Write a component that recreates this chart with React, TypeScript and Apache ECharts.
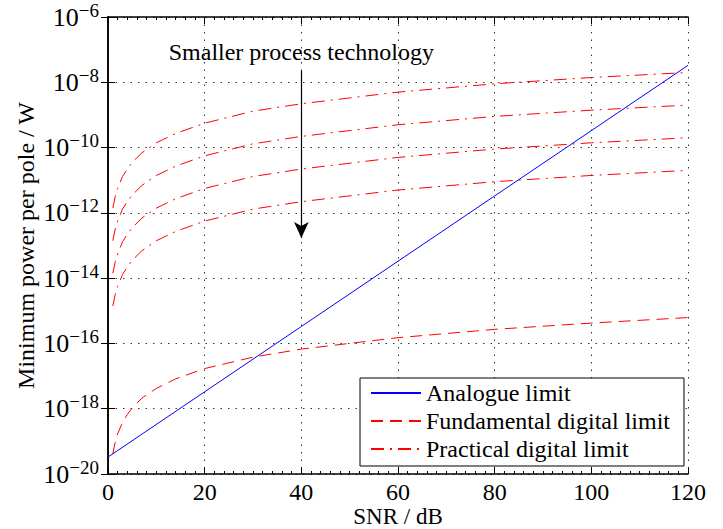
import React, { useEffect, useRef } from 'react';
import * as echarts from 'echarts';

const FONT = '"Liberation Serif", "Times New Roman", Times, serif';

// SNR samples (dB) for the digital limits
const snr = [1, 1.5, 2, 3, 4, 5, 7, 10, 14, 20, 30, 40, 60, 80, 100, 120];

// Analogue limit (straight line on the log scale)
const analogueSnr = [0, 20, 40, 60, 80, 100, 120];
const analogue = [3.3e-20, 3.3e-18, 3.3e-16, 3.3e-14, 3.3e-12, 3.3e-10, 3.3e-8];

// Fundamental digital limit
const fundamental = [4.2e-20, 9.5e-20, 1.7e-19, 3.8e-19, 6.7e-19, 1.05e-18, 2.1e-18, 4.2e-18, 8.2e-18, 1.7e-17, 3.8e-17, 6.7e-17, 1.5e-16, 2.7e-16, 4.2e-16, 6.2e-16];

// Practical digital limits (four process technologies)
const practical1 = [1.4e-12, 3.2e-12, 5.6e-12, 1.3e-11, 2.2e-11, 3.5e-11, 6.9e-11, 1.4e-10, 2.7e-10, 5.6e-10, 1.3e-9, 2.2e-9, 5.0e-9, 9.0e-9, 1.4e-8, 2.0e-8];
const practical2 = [1.4e-13, 3.2e-13, 5.6e-13, 1.3e-12, 2.2e-12, 3.5e-12, 6.9e-12, 1.4e-11, 2.7e-11, 5.6e-11, 1.3e-10, 2.2e-10, 5.0e-10, 9.0e-10, 1.4e-9, 2.0e-9];
const practical3 = [1.4e-14, 3.2e-14, 5.6e-14, 1.3e-13, 2.2e-13, 3.5e-13, 6.9e-13, 1.4e-12, 2.7e-12, 5.6e-12, 1.3e-11, 2.2e-11, 5.0e-11, 9.0e-11, 1.4e-10, 2.0e-10];
const practical4 = [1.4e-15, 3.2e-15, 5.6e-15, 1.3e-14, 2.2e-14, 3.5e-14, 6.9e-14, 1.4e-13, 2.7e-13, 5.6e-13, 1.3e-12, 2.2e-12, 5.0e-12, 9.0e-12, 1.4e-11, 2.0e-11];

const legendNames = ['Analogue limit', 'Fundamental digital limit', 'Practical digital limit'];
const arrowStart: [number, number] = [40, 2.3e-8];
const arrowEnd: [number, number] = [40, 1.7e-13];
const annotation = 'Smaller process technology';

const pairs = (xs: number[], ys: number[]) => xs.map((x, i) => [x, ys[i]]);

export default function App() {
  const ref = useRef<HTMLDivElement>(null);
  useEffect(() => {
    const chart = echarts.init(ref.current!, null, { renderer: 'svg' });
    const supLabel = (v: number) => {
      const e = Math.round(Math.log10(v));
      return `{b|10}{s|${e < 0 ? '\u2212' : ''}${Math.abs(e)}}`;
    };
    const axisLine = { show: true, lineStyle: { color: '#000', width: 1.5 } };
    const tick = { show: true, inside: true, length: 7, lineStyle: { color: '#000', width: 1 } };
    const grid = { show: true, lineStyle: { color: '#333', width: 1, type: [1.5, 6] as any } };
    const textBase = { fontFamily: FONT, color: '#000' };
    const practicalStyle = { color: '#ff0000', width: 1, type: [13, 6, 2, 6] as any };
    const practicalSeries = [practical1, practical2, practical3, practical4].map((arr) => ({
      name: 'Practical digital limit',
      type: 'line',
      symbol: 'none',
      data: pairs(snr, arr),
      lineStyle: practicalStyle,
      itemStyle: { color: '#ff0000' },
      z: 3,
    }));
    const option: any = {
      animation: false,
      backgroundColor: '#fff',
      grid: { left: 108, right: 35, top: 17, bottom: 55, containLabel: false, outerBoundsMode: 'none' },
      xAxis: [
        {
          type: 'value', min: 0, max: 120, interval: 20, position: 'bottom',
          axisLine, axisTick: tick,
          minorTick: { show: true, splitNumber: 10, length: 3, lineStyle: { color: '#000' } },
          axisLabel: { ...textBase, fontSize: 24, lineHeight: 20, margin: 8 },
          splitLine: grid,
          name: 'SNR / dB', nameLocation: 'middle', nameGap: 32, nameMoveOverlap: false,
          nameTextStyle: { ...textBase, fontSize: 23, lineHeight: 20 },
        },
        {
          type: 'value', min: 0, max: 120, interval: 20, position: 'top',
          axisLine, axisTick: tick,
          minorTick: { show: true, splitNumber: 10, length: 3, lineStyle: { color: '#000' } },
          axisLabel: { show: false }, splitLine: { show: false },
        },
      ],
      yAxis: [
        {
          type: 'log', logBase: 10, min: 1e-20, max: 1e-6, interval: 2, position: 'left',
          axisLine, axisTick: tick,
          axisLabel: {
            ...textBase, margin: 9,
            formatter: supLabel,
            rich: {
              b: { ...textBase, fontSize: 26, lineHeight: 26 },
              s: { ...textBase, fontSize: 19, lineHeight: 19, padding: [0, 0, 14, 0] },
            },
          },
          splitLine: grid,
          name: 'Minimum power per pole / W', nameLocation: 'middle', nameGap: 70, nameMoveOverlap: false,
          nameTextStyle: { ...textBase, fontSize: 24 },
        },
        {
          type: 'log', logBase: 10, min: 1e-20, max: 1e-6, interval: 2, position: 'right',
          axisLine, axisTick: tick, axisLabel: { show: false }, splitLine: { show: false },
        },
      ],
      legend: {
        left: 360, top: 378, orient: 'vertical', itemWidth: 50, itemHeight: 14, itemGap: 4,
        padding: [3, 14, 5, 10], borderColor: '#000', borderWidth: 1, borderRadius: 0,
        backgroundColor: '#fff', selectedMode: false,
        itemStyle: { opacity: 0 },
        textStyle: { ...textBase, fontSize: 24 },
        data: legendNames,
      },
      series: [
        {
          name: 'Analogue limit', type: 'line', symbol: 'none',
          data: pairs(analogueSnr, analogue),
          lineStyle: { color: '#0000ff', width: 1, type: 'solid' },
          itemStyle: { color: '#0000ff' },
          z: 4,
          markLine: {
            silent: true, symbol: ['none', 'arrow'], symbolSize: [11, 16],
            lineStyle: { color: '#000', width: 1.2, type: 'solid' },
            label: { show: true, position: 'start', formatter: annotation, ...textBase, fontSize: 24, distance: 6 },
            data: [[{ coord: arrowStart }, { coord: arrowEnd }]],
          },
        },
        {
          name: 'Fundamental digital limit', type: 'line', symbol: 'none',
          data: pairs(snr, fundamental),
          lineStyle: { color: '#ff0000', width: 1, type: [12, 7] },
          itemStyle: { color: '#ff0000' },
          z: 3,
        },
        ...practicalSeries,
      ],
    };
    chart.setOption(option);
    return () => chart.dispose();
  }, []);
  return <div ref={ref} style={{ position: 'absolute', left: 0, top: 0, width: 723, height: 529 }} />;
}
